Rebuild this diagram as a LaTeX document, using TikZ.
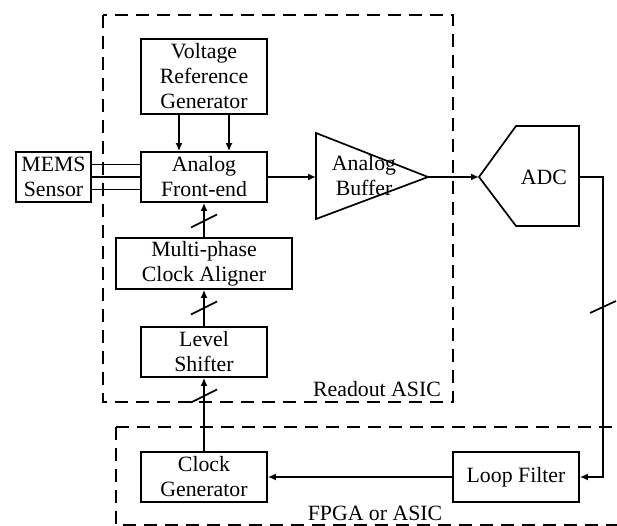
\documentclass[tikz,border=0pt]{standalone}
\usepackage{fontspec}
\setmainfont{Liberation Serif}
\usetikzlibrary{arrows.meta,calc}
\begin{document}
\begin{tikzpicture}[x=1pt,y=-1pt,
  line width=1.7pt,
  blk/.style={draw,rectangle,minimum width=126pt,minimum height=50pt,inner sep=0pt,align=center,
    font=\fontsize{21.8pt}{25pt}\selectfont},
  lbl/.style={inner sep=0pt,align=center,font=\fontsize{21.8pt}{25pt}\selectfont},
  arr/.style={-{Latex[length=8pt,width=7pt]}},
  region/.style={draw,dash pattern=on 13pt off 8pt,line width=1.7pt},
  slashmark/.style={line width=1.7pt}
]
\useasboundingbox (0,0) rectangle (617,526);
% regions
\draw[region] (103,15) rectangle (453,402);
\draw[region] (116,427) -- (640,427) (116,427) -- (116,525) -- (640,525);
\node[lbl] (readout) at (377,389) {Readout ASIC};
\node[lbl] (fpga) at (375,513) {FPGA or ASIC};
% blocks
\node[blk,minimum height=75pt] (vrg) at (204,76.5) {Voltage\\Reference\\Generator};
\node[blk] (afe) at (204,177) {Analog\\Front-end};
\node[blk,minimum width=75pt] (mems) at (53.5,177) {MEMS\\Sensor};
\node[blk,minimum width=176pt,minimum height=51pt] (mpca) at (204,263.5) {Multi-phase\\Clock Aligner};
\node[blk] (ls) at (204,352) {Level\\Shifter};
\node[blk] (cg) at (204,477) {Clock\\Generator};
\node[blk] (lf) at (516,477) {Loop Filter};
% buffer
\coordinate (bufin) at (316,177);
\coordinate (buftop) at (316,133);
\coordinate (bufbot) at (316,219);
\coordinate (bufout) at (428,177);
\draw[line join=miter] (buftop) -- (bufout) -- (bufbot) -- cycle;
\node[lbl] (buftext) at (364,176) {Analog\\Buffer};
% ADC
\coordinate (adcin) at (479,177);
\coordinate (adcout) at (579,177);
\draw[line join=miter] (adcin) -- (516,126) -- (579,126) -- (579,226) -- (516,226) -- cycle;
\node[lbl] (adc) at (544,177) {ADC};
% connectors
\draw[arr] ($(vrg.south)+(-25,0)$) -- ($(afe.north)+(-25,0)$);
\draw[arr] ($(vrg.south)+(25,0)$) -- ($(afe.north)+(25,0)$);
\draw ([yshift=12.5pt]mems.east) -- ([yshift=12.5pt]afe.west);
\draw (mems.east) -- (afe.west);
\draw ([yshift=-12.5pt]mems.east) -- ([yshift=-12.5pt]afe.west);
\draw[arr] (afe.east) -- (bufin);
\draw[arr] (bufout) -- (adcin);
\coordinate (corner1) at (603,177);
\coordinate (corner2) at (603,477);
\draw[arr] (adcout) -- (corner1) -- (corner2) -- (lf.east);
\draw[slashmark] (590,313) -- (616,301);
\draw[arr] (lf.west) -- (cg.east);
\draw[arr] (cg.north) -- (ls.south);
\draw[slashmark] (191,402.5) -- (217,389.5);
\draw[arr] (ls.north) -- (mpca.south);
\draw[slashmark] (191,314.5) -- (217,301.5);
\draw[arr] (mpca.north) -- (afe.south);
\draw[slashmark] (191,227.5) -- (217,214.5);
\end{tikzpicture}
\end{document}
